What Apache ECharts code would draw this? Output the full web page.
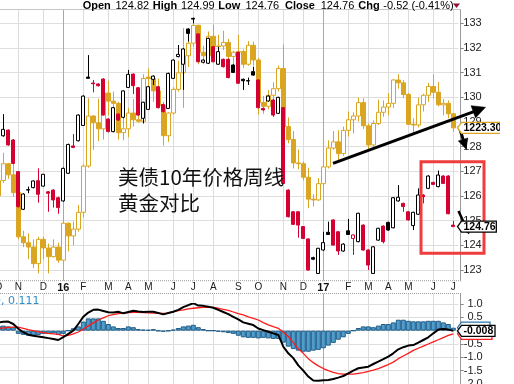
<!DOCTYPE html>
<html>
<head>
<meta charset="utf-8">
<script src="https://cdn.jsdelivr.net/npm/echarts@6.0.0/dist/echarts.min.js"></script>
<style>
html,body{margin:0;padding:0;background:#fff;overflow:hidden}
#chart{width:514px;height:384px}
</style>
</head>
<body>
<div id="chart"></div>
<script>
const FONT = "'Liberation Sans', Arial, sans-serif";

// weekly categories (Mondays) starting 2015-10-05, one spare week at the end
const weekDates = [];
for (let i = 0; i < 93; i++) {
  const d = new Date(Date.UTC(2015, 9, 5) + i * 7 * 86400000);
  weekDates.push(d.toISOString().slice(0, 10));
}
const monthStarts = [0,4,9,13,17,22,26,30,35,39,43,48,52,57,61,65,70,74,78,82,87,91];
const monthLabels = ['O','N','D','16','F','M','A','M','J','J','A','S','O','N','D','17','F','M','A','M','J','J'];
const yearLabels = ['16','17'];

// 10-year Treasury note price, weekly [open, close, low, high]
const tsyOHLC = [
[128.54,128.60,128.47,128.88],[128.44,128.70,128.40,129.32],[128.67,128.07,128.04,128.70],[128.27,127.32,127.28,128.31],
[126.99,125.57,125.53,127.01],[125.46,126.08,125.43,126.11],[126.24,126.26,126.11,126.38],[126.34,126.61,126.31,126.63],
[126.62,126.07,125.73,127.12],[126.40,126.88,126.38,126.89],[126.17,126.11,125.36,126.20],[126.24,125.84,125.53,126.27],
[125.93,125.53,125.28,125.97],[125.80,127.12,125.77,127.15],[126.92,128.09,126.89,128.12],[128.03,127.97,127.94,128.51],
[128.24,129.28,128.21,129.31],[128.86,130.05,128.84,130.08],[130.82,130.77,130.77,131.71],[130.58,130.55,130.20,130.70],
[130.54,130.47,130.44,130.57],[130.74,129.28,129.26,130.77],[129.12,128.61,128.58,129.15],[128.61,129.58,128.58,129.61],
[129.32,129.08,129.04,129.35],[129.19,130.26,129.15,130.28],[130.40,130.93,130.38,131.11],[130.94,130.47,130.13,130.97],
[130.39,129.28,129.26,130.42],[129.15,129.80,128.94,129.82],[129.51,130.43,129.49,130.46],[130.73,130.86,130.50,130.89],
[130.43,129.58,129.55,130.46],[129.71,129.42,129.39,129.74],[129.55,130.97,129.53,131.00],[130.77,131.51,130.74,131.54],
[131.65,131.74,131.62,132.12],[131.34,131.96,130.30,131.99],[132.77,132.59,132.26,132.80],[133.20,133.17,133.00,133.23],
[132.57,131.44,131.42,132.59],[131.42,131.51,131.39,131.54],[131.38,132.39,131.35,132.42],[132.05,131.44,131.42,132.08],
[131.34,131.85,131.31,132.05],[131.54,131.24,131.21,131.57],[131.54,130.80,130.77,131.57],[131.31,131.01,130.99,131.34],
[131.82,130.57,130.54,131.85],[130.73,130.67,130.30,130.76],[130.66,130.68,130.50,130.80],[131.04,130.90,130.88,131.24],
[130.70,129.58,129.55,130.73],[129.55,129.49,129.46,129.58],[129.85,130.05,129.82,130.08],[129.89,129.28,129.21,129.92],
[129.35,130.00,129.32,130.02],[129.58,126.51,126.49,129.61],[126.24,125.16,125.13,126.27],[125.36,124.85,124.82,125.39],
[125.36,124.82,124.31,125.39],[124.76,124.28,124.26,124.78],[124.26,123.00,122.97,124.28],[123.50,123.44,123.40,123.54],
[122.86,123.88,122.84,123.90],[123.81,124.11,123.78,124.55],[124.53,124.44,124.42,124.96],[125.03,124.01,123.99,125.05],
[124.55,123.77,123.61,124.58],[123.77,124.05,123.74,124.08],[124.59,124.44,124.42,125.07],[124.28,124.42,123.61,124.44],
[124.15,125.30,124.12,125.32],[124.82,123.81,123.78,124.85],[123.81,123.20,123.00,123.84],[122.86,123.94,122.84,123.97],
[124.21,124.69,124.19,124.71],[124.78,124.15,124.08,124.81],[124.93,124.62,124.59,124.96],[124.71,125.93,124.69,125.96],
[125.80,125.95,125.77,126.44],[125.70,125.57,125.36,125.73],[125.36,125.03,125.00,125.39],[124.80,125.34,124.62,125.36],
[125.26,126.04,125.23,126.31],[126.04,125.97,125.70,126.07],[126.31,126.81,126.28,126.84],[126.55,126.47,126.44,126.58],
[126.38,126.85,126.35,127.03],[126.81,126.51,126.49,126.84],[126.81,125.28,125.26,126.84],[124.82,124.76,124.76,124.99]
];

// Gold, weekly [open, close, low, high]
const goldOHLC = [
[1137,1156,1131,1160],[1156,1177,1153,1191],[1177,1163,1158,1178],[1163,1141,1136,1176],
[1141,1088,1085,1143],[1088,1081,1076,1095],[1081,1076,1062,1092],[1076,1057,1052,1085],
[1057,1085,1046,1088],[1085,1075,1062,1088],[1075,1065,1046,1080],[1065,1076,1064,1085],
[1076,1061,1058,1081],[1061,1104,1060,1110],[1104,1089,1071,1105],[1089,1097,1078,1106],
[1097,1117,1094,1126],[1117,1174,1111,1176],[1174,1239,1172,1263],[1239,1230,1195,1240],
[1230,1222,1206,1262],[1222,1270,1208,1281],[1270,1259,1240,1287],[1259,1256,1225,1272],
[1256,1217,1208,1258],[1217,1222,1207,1243],[1222,1243,1211,1250],[1243,1234,1225,1262],
[1234,1232,1230,1271],[1232,1290,1230,1296],[1292,1290,1264,1304],[1290,1273,1258,1292],
[1273,1253,1251,1290],[1253,1213,1200,1258],[1213,1243,1205,1244],[1243,1275,1241,1278],
[1275,1298,1272,1315],[1298,1322,1250,1362],[1322,1340,1306,1343],[1340,1366,1335,1377],
[1366,1327,1310,1367],[1327,1322,1310,1336],[1322,1350,1313,1357],[1350,1335,1335,1367],
[1335,1336,1331,1352],[1336,1341,1330,1358],[1341,1321,1317,1346],[1321,1327,1302,1329],
[1327,1328,1323,1352],[1328,1310,1305,1331],[1310,1337,1308,1343],[1337,1316,1308,1342],
[1316,1257,1241,1319],[1257,1252,1242,1266],[1252,1267,1248,1274],[1267,1276,1260,1285],
[1276,1304,1272,1308],[1304,1225,1220,1338],[1225,1208,1203,1237],[1208,1178,1171,1219],
[1178,1177,1170,1195],[1177,1160,1156,1180],[1160,1133,1122,1172],[1133,1132,1124,1139],
[1132,1152,1131,1159],[1152,1173,1146,1182],[1173,1197,1171,1207],[1197,1205,1195,1219],
[1205,1190,1180,1220],[1190,1220,1187,1225],[1220,1234,1212,1245],[1234,1239,1216,1244],
[1239,1257,1232,1264],[1257,1226,1222,1263],[1226,1201,1194,1229],[1201,1229,1195,1233],
[1229,1244,1227,1261],[1244,1251,1238,1260],[1251,1256,1240,1270],[1256,1288,1250,1289],
[1288,1284,1276,1296],[1284,1268,1263,1288],[1268,1228,1227,1270],[1228,1227,1214,1236],
[1227,1254,1224,1264],[1254,1267,1245,1269],[1267,1279,1258,1284],[1279,1271,1263,1296],
[1271,1254,1252,1285],[1254,1256,1240,1262],[1256,1242,1236,1260],[1242,1223.3,1218,1243]
];

// MACD(12,26,9)
const macdLine = [0.31,0.33,0.34,0.25,0.07,-0.06,-0.15,-0.19,-0.22,-0.25,
-0.28,-0.31,-0.35,-0.24,-0.12,0.0,0.25,0.52,0.68,0.78,
0.79,0.74,0.69,0.68,0.71,0.65,0.70,0.75,0.72,0.70,
0.71,0.71,0.66,0.61,0.66,0.71,0.78,0.88,0.96,1.03,
0.94,0.93,0.90,0.86,0.78,0.70,0.62,0.52,0.42,0.31,
0.26,0.21,0.08,0.02,-0.04,-0.10,-0.16,-0.60,-0.85,-1.03,
-1.30,-1.50,-1.72,-1.87,-1.88,-1.86,-1.85,-1.81,-1.76,-1.70,
-1.60,-1.50,-1.41,-1.38,-1.35,-1.25,-1.16,-1.07,-0.97,-0.85,
-0.70,-0.62,-0.56,-0.54,-0.45,-0.35,-0.25,-0.10,0.04,0.06,
0.04,-0.008];
const signalLine = [0.09,0.10,0.12,0.13,0.13,0.09,0.04,0.0,-0.04,-0.07,
-0.10,-0.12,-0.14,-0.20,-0.18,-0.12,-0.05,0.06,0.18,0.29,
0.40,0.48,0.56,0.60,0.64,0.66,0.68,0.69,0.69,0.68,
0.67,0.66,0.65,0.65,0.66,0.71,0.75,0.78,0.82,0.84,
0.86,0.87,0.88,0.87,0.84,0.80,0.76,0.70,0.64,0.59,
0.52,0.46,0.40,0.30,0.22,0.15,0.09,-0.06,-0.22,-0.45,
-0.68,-0.85,-1.05,-1.20,-1.32,-1.42,-1.50,-1.56,-1.61,-1.63,
-1.63,-1.63,-1.60,-1.57,-1.53,-1.48,-1.42,-1.35,-1.27,-1.18,
-1.05,-0.95,-0.85,-0.74,-0.66,-0.58,-0.50,-0.42,-0.34,-0.26,
-0.18,-0.119];
const macdHist = [0.18,0.19,0.16,0.13,-0.12,-0.16,-0.19,-0.19,-0.16,-0.12,
-0.12,-0.10,-0.16,-0.12,0.0,0.09,0.16,0.34,0.46,0.46,
0.46,0.37,0.25,0.16,0.10,0.10,0.16,0.13,0.06,0.04,
0.03,0.06,-0.01,-0.04,-0.01,0.04,0.10,0.16,0.19,0.22,
0.13,0.06,0.0,0.0,-0.04,-0.06,-0.09,-0.12,-0.19,-0.25,
-0.27,-0.27,-0.29,-0.27,-0.29,-0.31,-0.31,-0.45,-0.60,-0.69,
-0.75,-0.79,-0.79,-0.75,-0.72,-0.66,-0.56,-0.46,-0.34,-0.25,
-0.12,0.0,0.10,0.16,0.16,0.13,0.19,0.25,0.25,0.31,
0.41,0.41,0.37,0.35,0.35,0.35,0.37,0.37,0.37,0.31,
0.25,0.111];

const priceAxis = {min: 123, max: 133, step: 1};
const goldAxis = {min: 1049.8, max: 1369};
const macdAxis = {min: -2, max: 1, step: 0.5};

// ---------- styling ----------
const RED = '#d40032', BLACK = '#000000', GOLD = '#daa520';
const tsyData = tsyOHLC.map((d, i) => {
  const o = d[0], c = d[1];
  const prev = i > 0 ? tsyOHLC[i - 1][1] : -Infinity;
  const col = c >= prev ? BLACK : RED;
  const fill = c > o ? '#ffffff' : col;
  return {value: d, itemStyle: {color: fill, color0: fill, borderColor: col, borderColor0: col, borderColorDoji: col}};
});
const goldData = goldOHLC.map(d => {
  const fill = d[1] > d[0] ? '#ffffff' : GOLD;
  return {value: d, itemStyle: {color: fill, color0: fill, borderColor: GOLD, borderColor0: GOLD, borderColorDoji: GOLD}};
});

const labelAt = {};
monthStarts.forEach((k, j) => { labelAt[k] = monthLabels[j]; });
const isMonth = (idx) => Object.prototype.hasOwnProperty.call(labelAt, idx);
const splitColors = monthLabels.map(l => yearLabels.includes(l) ? '#a9a9a9' : '#dcdcdc');

const L = -1.7, R = 55.7, AX_OFF = 2.4;
const gridBase = {left: L, right: R, containLabel: false, outerBoundsMode: 'none'};

const catAxis = (gridIndex, extra) => Object.assign({
  type: 'category', gridIndex, data: weekDates, boundaryGap: false,
  axisLine: {show: false}, axisTick: {show: false}, axisLabel: {show: false}, splitLine: {show: false}
}, extra);

const option = {
  animation: false,
  backgroundColor: '#ffffff',
  textStyle: {fontFamily: FONT},
  grid: [
    Object.assign({top: 9.5, bottom: 384 - 280.7}, gridBase),
    Object.assign({top: 23.3, height: 246.7}, gridBase),
    Object.assign({top: 293.5, bottom: 0}, gridBase),
    Object.assign({top: 304, height: 80}, gridBase)
  ],
  xAxis: [
    catAxis(0, {
      splitLine: {show: true, interval: (i) => isMonth(i), lineStyle: {color: splitColors, width: 1}},
      axisLabel: {show: true, interval: (i) => isMonth(i), margin: 1.5, fontSize: 10, color: '#1a1a1a', fontFamily: FONT,
        formatter: (v, i) => { const t = labelAt[i]; return yearLabels.includes(t) ? '{y|' + t + '}' : t; },
        rich: {y: {fontWeight: 'bold', fontSize: 11, color: '#111', fontFamily: FONT}}}
    }),
    catAxis(1, {show: false}),
    catAxis(2, {splitLine: {show: true, interval: (i) => isMonth(i), lineStyle: {color: splitColors, width: 1}}}),
    catAxis(3, {show: false})
  ],
  yAxis: [
    {type: 'value', gridIndex: 0, min: 0, max: 1, position: 'right', offset: AX_OFF,
      axisLine: {show: true, lineStyle: {color: '#9a9a9a'}}, axisTick: {show: false}, axisLabel: {show: false}, splitLine: {show: false}},
    {type: 'value', gridIndex: 1, min: priceAxis.min, max: priceAxis.max, interval: priceAxis.step, position: 'right', offset: AX_OFF,
      axisLine: {show: false}, axisTick: {show: true, length: 3, lineStyle: {color: '#888'}},
      axisLabel: {fontSize: 11, color: '#222', fontFamily: FONT, margin: 21, align: 'right'},
      splitLine: {show: true, lineStyle: {color: '#dedede'}}},
    {type: 'log', gridIndex: 1, min: goldAxis.min, max: goldAxis.max, show: false, splitLine: {show: false}},
    {type: 'value', gridIndex: 2, min: 0, max: 1, position: 'right', offset: AX_OFF,
      axisLine: {show: true, lineStyle: {color: '#9a9a9a'}}, axisTick: {show: false}, axisLabel: {show: false}, splitLine: {show: false}},
    {type: 'value', gridIndex: 3, min: macdAxis.min, max: macdAxis.max, interval: macdAxis.step, position: 'right', offset: AX_OFF,
      axisLine: {show: false}, axisTick: {show: true, length: 3, lineStyle: {color: '#888'}},
      axisLabel: {fontSize: 11, color: '#222', fontFamily: FONT, margin: 22, align: 'right', formatter: (v) => v.toFixed(1)},
      splitLine: {show: true, lineStyle: {color: '#dedede'}}}
  ],
  series: [
    {type: 'candlestick', name: 'Gold', xAxisIndex: 1, yAxisIndex: 2, data: goldData, barWidth: 4.4, clip: false,
      large: false, itemStyle: {borderWidth: 1}},
    {type: 'candlestick', name: 'UST10', xAxisIndex: 1, yAxisIndex: 1, data: tsyData, barWidth: 3.6, clip: false,
      large: false, itemStyle: {borderWidth: 1}},
    {type: 'bar', name: 'Hist', xAxisIndex: 3, yAxisIndex: 4, data: macdHist, barWidth: 5,
      itemStyle: {color: '#4f9dcc', borderColor: '#1f5c88', borderWidth: 1}},
    {type: 'line', name: 'Signal', xAxisIndex: 3, yAxisIndex: 4, data: signalLine, symbol: 'none', smooth: false,
      lineStyle: {color: '#ff1a1a', width: 1.3}},
    {type: 'line', name: 'MACD', xAxisIndex: 3, yAxisIndex: 4, data: macdLine, symbol: 'none', smooth: false,
      lineStyle: {color: '#000', width: 2}}
  ]
};

const chart = echarts.init(document.getElementById('chart'), null, {renderer: 'canvas'});
chart.setOption(option);

// ---------- annotations ----------
const py = (axisIndex, v) => chart.convertToPixel({yAxisIndex: axisIndex}, v);
const Z = 100;
const g = [];
const line = (x1, y1, x2, y2, stroke, w, dash) => g.push({type: 'line', z: Z, silent: true,
  shape: {x1, y1, x2, y2}, style: {stroke, lineWidth: w, lineDash: dash || null}});
const text = (x, y, t, font, fill, align) => g.push({type: 'text', z: Z + 2, silent: true, x, y,
  style: {text: t, font, fill, align: align || 'left', verticalAlign: 'middle'}});
function arrow(x1, y1, tx, ty, len, hw, w) {
  const dx = tx - x1, dy = ty - y1, d = Math.hypot(dx, dy), ux = dx / d, uy = dy / d, nx = -uy, ny = ux;
  const bx = tx - ux * len, by = ty - uy * len;
  line(x1, y1, bx + ux * 2, by + uy * 2, '#000', w);
  g.push({type: 'polygon', z: Z, silent: true,
    shape: {points: [[tx, ty], [bx + nx * hw, by + ny * hw], [bx - nx * hw, by - ny * hw]]},
    style: {fill: '#000', stroke: '#000', lineWidth: 0.5}});
}
function tag(cy, t, stroke, right) {
  const h = 11, tip = 457.5, bx = 461.5;
  g.push({type: 'polygon', z: Z + 3, silent: true,
    shape: {points: [[tip, cy], [bx, cy - h / 2], [right, cy - h / 2], [right, cy + h / 2], [bx, cy + h / 2]]},
    style: {fill: '#fff', stroke, lineWidth: 1.3}});
  if (t) g.push({type: 'text', z: Z + 4, silent: true, x: 463.5, y: cy + 0.5,
    style: {text: t, font: 'bold 10.5px ' + FONT, fill: '#000', align: 'left', verticalAlign: 'middle'}});
}

// panel borders
line(0, 9.5, 460.7, 9.5, '#c6c6c6', 1);
line(0, 280.7, 460.7, 280.7, '#9d9d9d', 1, [1, 1]);
line(0, 293.5, 460.7, 293.5, '#9d9d9d', 1, [1, 1]);

// header
const last = tsyOHLC[tsyOHLC.length - 1], prevClose = tsyOHLC[tsyOHLC.length - 2][1];
const chg = last[1] - prevClose, pct = Math.trunc(chg / prevClose * 10000) / 100;
const hb = 'bold 11px ' + FONT, hn = '11px ' + FONT;
text(82.7, 5.5, 'Open', hb, '#000'); text(115.5, 5.5, last[0].toFixed(2), hn, '#000');
text(152.7, 5.5, 'High', hb, '#000'); text(181, 5.5, last[3].toFixed(2), hn, '#000');
text(218.3, 5.5, 'Low', hb, '#000'); text(245.5, 5.5, last[2].toFixed(2), hn, '#000');
text(285, 5.5, 'Close', hb, '#000'); text(320.7, 5.5, last[1].toFixed(2), hn, '#000');
text(358.3, 5.5, 'Chg', hb, '#000');
text(383.3, 5.5, chg.toFixed(2) + ' (' + pct.toFixed(2) + '%)', hn, '#000');
g.push({type: 'polygon', z: Z, silent: true, shape: {points: [[453, 3.5], [460, 3.5], [456.5, 8]]}, style: {fill: '#8e1330'}});

// MACD legend text
const mL = macdLine[macdLine.length - 1], sL = signalLine[signalLine.length - 1], hL = macdHist[macdHist.length - 1];
text(39.5, 301, 'MACD(12,26,9) ' + mL.toFixed(3) + ', ' + sL.toFixed(3) + ', ' + hL.toFixed(3),
  '11px "DejaVu Sans", Verdana, sans-serif', '#2f8fc6', 'right');

// Chinese caption
text(118, 177, '美债10年价格周线', '20.5px "Noto Sans CJK SC"', '#111');
text(118, 203.5, '黄金对比', '20.5px "Noto Sans CJK SC"', '#111');

// red box
g.push({type: 'rect', z: Z, silent: true, shape: {x: 421, y: 161.7, width: 63, height: 91.6},
  style: {fill: 'none', stroke: '#f03c3c', lineWidth: 3}});

// arrows
arrow(333, 163.3, 485.5, 107.3, 13, 6.5, 3);
arrow(459, 126, 466, 149, 10, 5, 3);
arrow(458.5, 211, 469, 234, 10, 5, 2.5);

// value tags
const goldLast = goldOHLC[goldOHLC.length - 1][1];
tag(py(2, goldLast), goldLast.toFixed(2), GOLD, 510);
g.push({type: 'rect', z: Z + 5, silent: true, shape: {x: 500, y: py(2, goldLast) - 9, width: 14, height: 18}, style: {fill: '#fff'}});
tag(py(1, last[1]), last[1].toFixed(2), '#000', 496.3);
tag(py(4, hL), '', '#2a78b0', 490);
tag(py(4, sL), '', '#ff2020', 492);
tag(py(4, mL), mL.toFixed(3), '#000', 495);

chart.setOption({graphic: {elements: g}});
</script>
</body>
</html>
